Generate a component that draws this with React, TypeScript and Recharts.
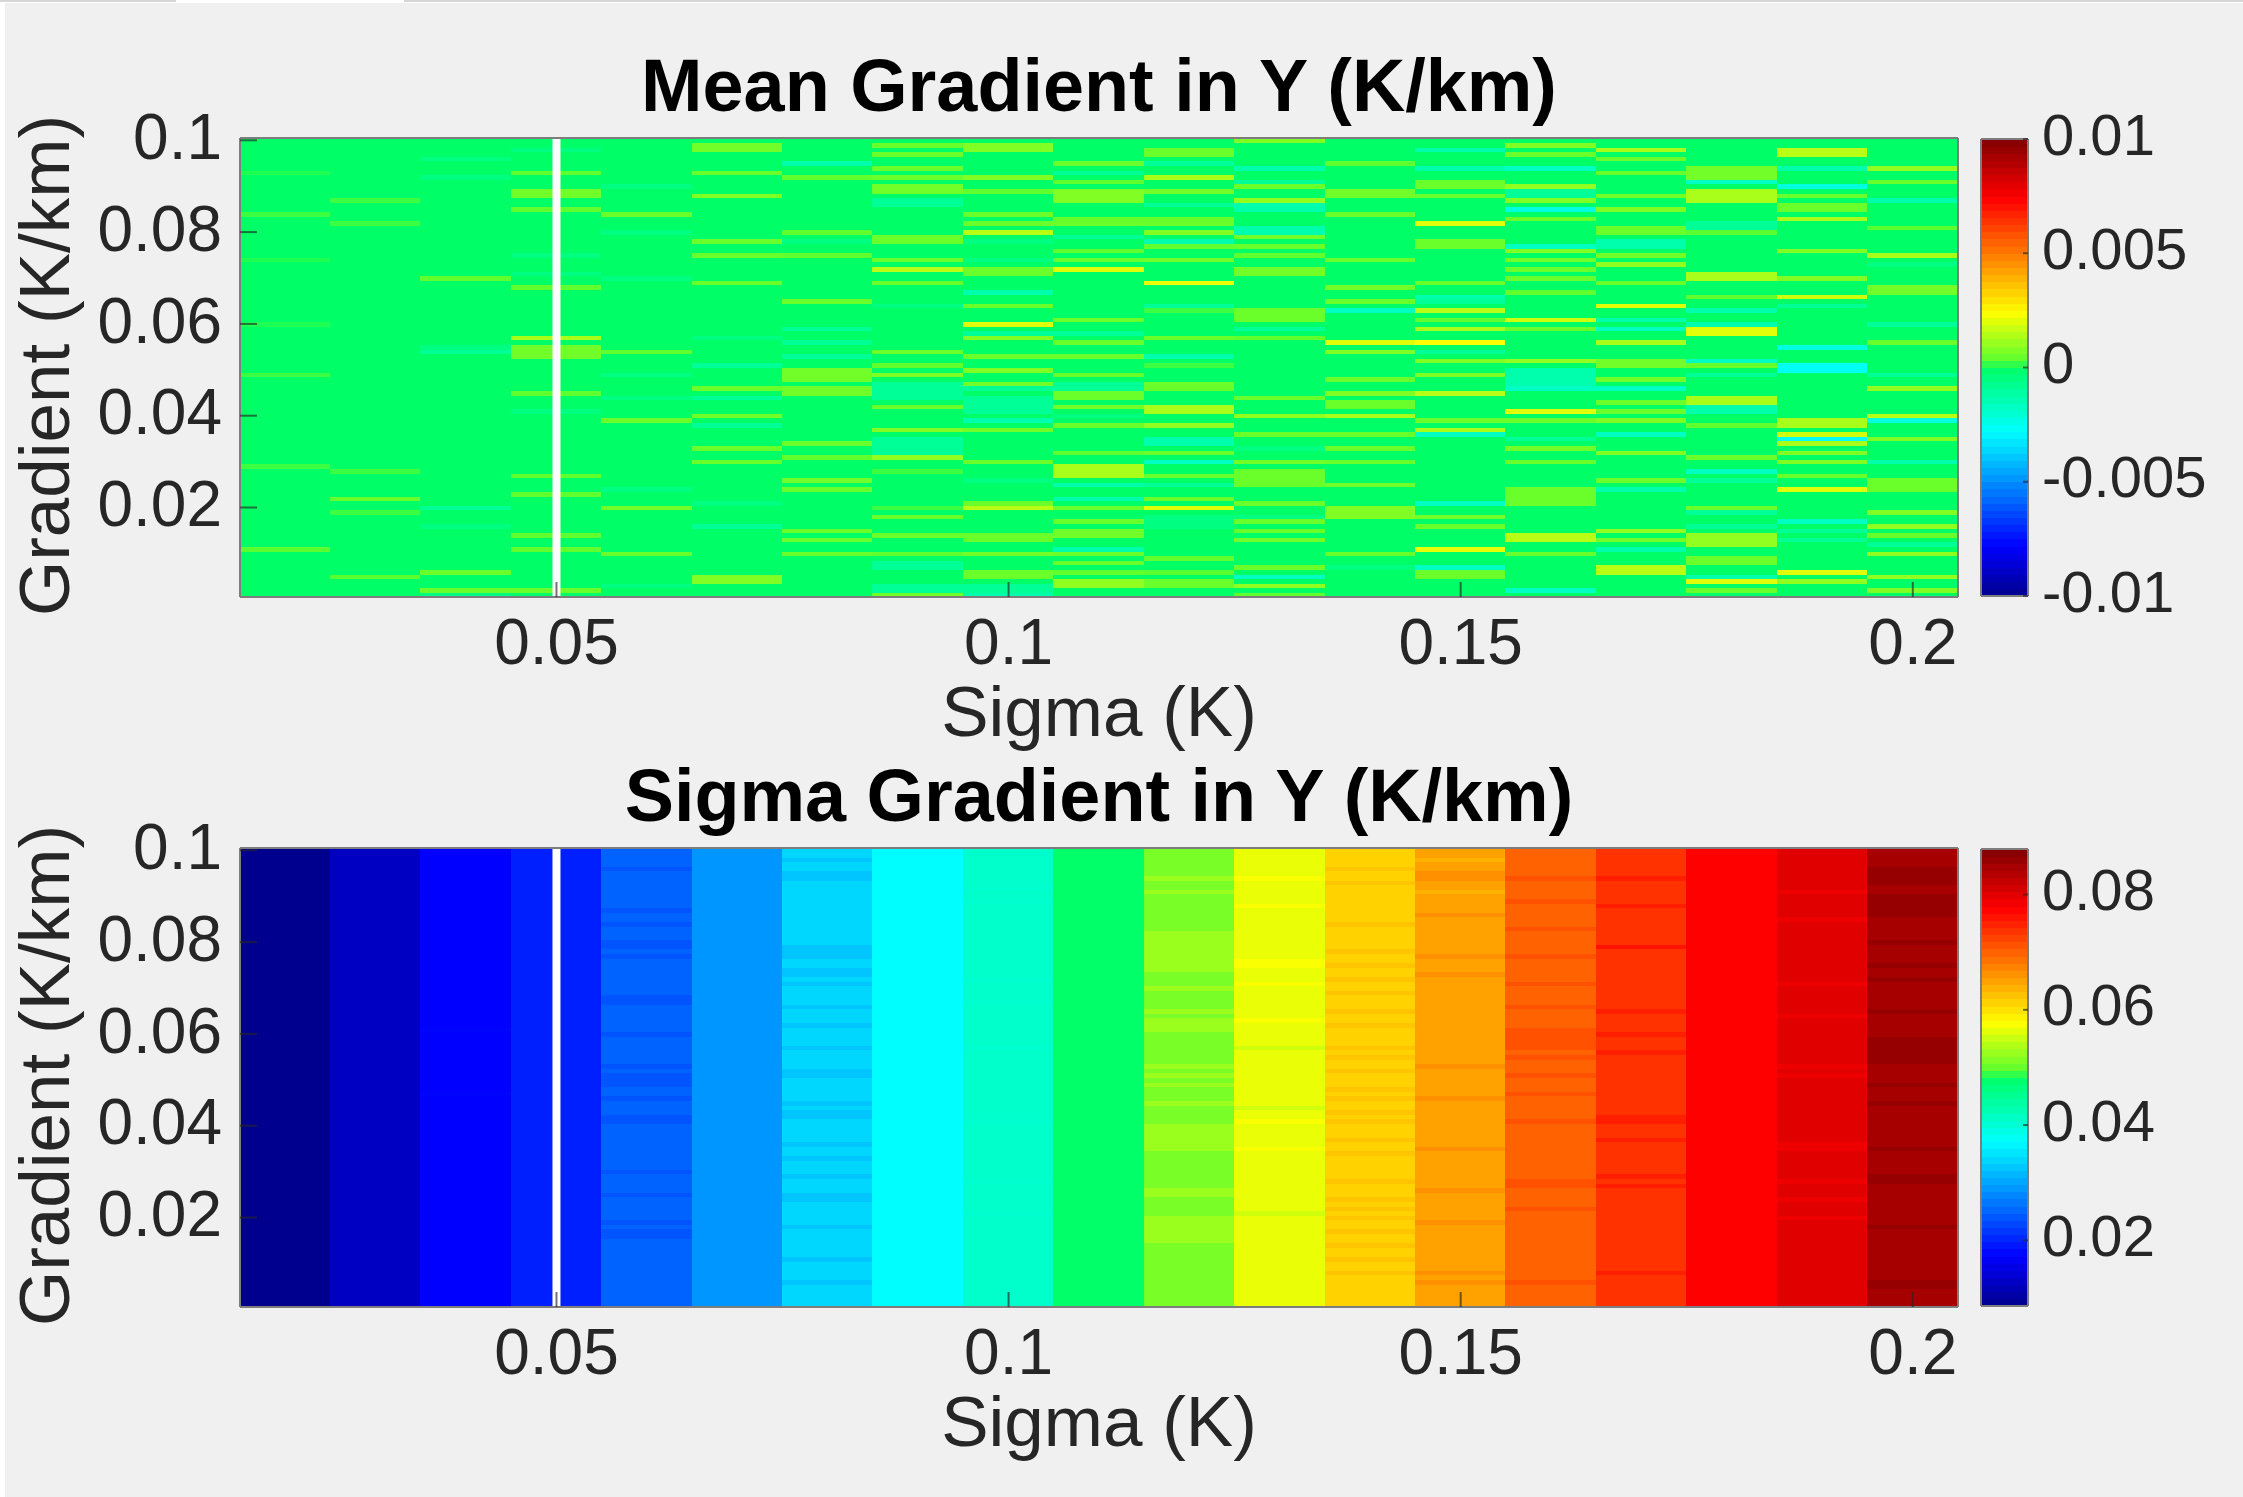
import React from 'react';
import { ComposedChart, Bar, Cell, XAxis, YAxis, ReferenceLine } from 'recharts';

// Sigma (K), one heatmap column each
const sigmaValues = [0.02, 0.03, 0.04, 0.05, 0.06, 0.07, 0.08, 0.09, 0.1, 0.11, 0.12, 0.13, 0.14, 0.15, 0.16, 0.17, 0.18, 0.19, 0.2];
const sigmaTicks = [0.05, 0.1, 0.15, 0.2];
const gradientTicks = [0.02, 0.04, 0.06, 0.08, 0.1];
const meanBarTicks = [-0.01, -0.005, 0, 0.005, 0.01];
const spreadBarTicks = [0.02, 0.04, 0.06, 0.08];
const missingSigma = 0.05;

// Mean gradient: [row, value in 1e-4 K/km], row n = n * 0.001 K/km. Rows not listed read as 0.
const mean020 = [[93, 1], [84, 2], [74, 1], [60, 1], [49, 2], [29, 2], [11, 3]];
const mean030 = [[87, 2], [82, 2], [28, 2], [22, 5], [19, 2], [5, 3]];
const mean040 = [[96, -5], [92, -5], [70, 4], [55, -5], [54, -9], [20, -9], [16, -5], [6, 5], [2, 5], [1, -5]];
const mean050 = [[98, -5], [93, 4], [89, 6], [88, 6], [85, 4], [75, -5], [71, -5], [68, 4], [57, 13], [55, 6], [54, 6], [53, 6], [45, 4], [41, -5], [27, 4], [23, 4], [14, 4], [11, 4], [2, 5]];
const mean060 = [[90, -5], [84, 5], [80, -5], [70, -5], [54, 4], [49, -5], [44, -5], [39, 5], [24, -5], [20, 6], [10, 5], [3, -5]];
const mean070 = [[99, 6], [98, 6], [93, 5], [88, 8], [78, 5], [75, 5], [69, 5], [57, -5], [51, -9], [46, 5], [44, -9], [40, 6], [38, -9], [33, 5], [30, 5], [21, -5], [16, -9], [5, 8], [4, 8]];
const mean080 = [[95, -13], [92, 4], [80, 4], [78, -5], [75, 4], [65, 5], [59, -9], [56, -9], [53, -9], [50, 6], [49, 6], [48, 6], [46, 6], [45, 6], [34, 5], [31, 4], [26, 6], [24, 5], [15, 5], [13, 5], [10, 5]];
const mean090 = [[99, 5], [97, 5], [94, 5], [92, 5], [90, 6], [89, 6], [87, -9], [86, -9], [79, 5], [78, 5], [74, 5], [72, 15], [69, 5], [64, -5], [54, 5], [51, 4], [49, 8], [47, -9], [46, -9], [45, -9], [44, -9], [42, 5], [37, 8], [35, -9], [34, -9], [33, -9], [32, -9], [31, 10], [28, 2], [20, 2], [18, 5], [14, 5], [10, 4], [8, -9], [7, -9], [3, -9], [2, -9], [1, 6]];
const mean100 = [[99, 8], [98, 8], [92, 8], [89, 4], [84, 5], [82, 5], [80, 15], [78, -5], [74, -5], [72, 5], [71, 5], [67, -13], [64, 5], [60, 20], [58, -9], [57, 8], [53, 5], [50, 8], [47, 6], [46, -9], [44, -9], [43, -9], [42, -9], [41, -9], [39, -13], [37, 6], [30, 5], [26, -5], [21, 5], [20, 15], [14, 5], [13, 5], [10, 6], [6, 5], [5, 5], [3, -9], [2, -9], [1, -13]];
const mean110 = [[95, 5], [93, -9], [91, 4], [89, 8], [88, 8], [87, 8], [83, 5], [82, 5], [79, -9], [76, 4], [74, 5], [72, 20], [61, 5], [58, -9], [56, 5], [53, 5], [49, 5], [47, -9], [46, -9], [45, 5], [44, 5], [42, 6], [40, -5], [38, 5], [32, 4], [29, 13], [28, 13], [27, 13], [25, -13], [22, -13], [20, 5], [17, 5], [15, 6], [14, 6], [11, -13], [10, 5], [8, 5], [6, 4], [4, 10], [3, 10]];
const mean120 = [[98, 5], [97, 5], [95, -9], [92, 13], [89, 6], [86, -9], [83, 5], [82, 5], [80, 8], [78, -13], [77, 4], [74, 6], [69, 22], [64, -9], [63, 2], [57, 5], [53, -13], [51, 2], [47, 5], [46, 5], [42, 13], [41, 13], [38, 10], [35, -13], [34, -13], [32, 5], [30, -17], [27, 5], [25, -9], [22, 5], [20, 20], [18, -5], [17, -5], [16, -5], [9, 4], [6, 3], [4, 5], [3, 5]];
const mean130 = [[100, 8], [94, -13], [91, -9], [90, 5], [87, 10], [86, -13], [85, -13], [81, -13], [80, -13], [79, 6], [77, 5], [75, 4], [72, 6], [71, 6], [63, 5], [62, 5], [61, 5], [59, -9], [57, 4], [44, 5], [40, 10], [36, 5], [33, -5], [30, 6], [28, 5], [27, 5], [26, 5], [25, 5], [21, 5], [18, -5], [17, 5], [15, 5], [13, 6], [7, 5], [5, -17], [3, 10], [1, 4]];
const mean140 = [[95, 4], [89, 6], [88, 6], [84, 5], [74, 5], [68, 6], [65, 5], [63, -17], [56, 20], [54, 8], [48, 5], [45, 8], [43, 5], [42, 5], [40, 13], [36, 5], [33, 5], [30, 5], [25, 6], [20, 8], [19, 8], [18, 8], [10, 5], [7, -5]];
const mean150 = [[98, -13], [94, -13], [91, 5], [90, 5], [88, 5], [82, 20], [78, 5], [77, 5], [69, 5], [66, -13], [65, -9], [63, 15], [61, 4], [59, 13], [56, 24], [54, -9], [52, 8], [49, 8], [45, 15], [39, 5], [37, 13], [36, -17], [21, -17], [18, 6], [16, 5], [11, 21], [7, -17], [6, 5], [5, 5]];
const mean160 = [[99, 8], [97, 5], [94, -17], [90, 10], [89, -9], [88, -9], [87, 8], [85, -22], [83, 5], [77, -17], [76, 8], [74, 6], [72, 5], [70, 5], [67, 4], [61, 18], [59, 5], [52, 10], [50, -13], [49, -13], [48, -13], [47, -13], [46, -17], [41, 20], [39, 5], [35, -9], [33, 6], [30, 5], [24, 5], [23, 5], [22, 5], [21, 5], [14, 15], [13, 15], [10, 5], [2, -17]];
const mean170 = [[98, 13], [96, 5], [93, 5], [88, 6], [85, 8], [81, 5], [80, 5], [78, -13], [77, -13], [75, 6], [73, 10], [69, 5], [64, 20], [61, -13], [59, -17], [56, 13], [52, 6], [51, 6], [48, 6], [46, -17], [43, 5], [41, 5], [39, 8], [36, -17], [32, 8], [26, 5], [24, -13], [15, 10], [13, 6], [11, -13], [7, 15], [6, 15]];
const mean180 = [[94, 6], [93, 6], [92, 6], [91, -17], [89, 13], [88, 13], [87, 13], [82, -9], [81, -9], [80, 3], [71, 13], [70, 13], [66, 4], [63, -13], [60, -13], [59, 20], [58, 20], [52, -17], [51, 5], [49, -9], [44, 13], [43, 13], [42, -13], [41, -13], [38, 4], [31, 5], [28, -17], [26, -9], [20, 5], [19, -9], [16, -9], [14, 10], [13, 10], [12, 10], [9, 5], [8, 5], [5, -13], [4, 20], [2, 5]];
const mean190 = [[98, 15], [97, 15], [94, -13], [90, -22], [88, 5], [86, 5], [85, 5], [83, 13], [76, 8], [70, 8], [66, 18], [64, -9], [55, -22], [51, -26], [50, -26], [39, 13], [38, 13], [36, 18], [35, -26], [34, 13], [32, 8], [30, 8], [27, 5], [24, 20], [17, -17], [15, -9], [13, -9], [6, 20], [4, 10]];
const mean200 = [[94, 10], [91, 5], [87, -13], [81, 3], [75, 13], [73, -5], [68, 6], [67, 6], [60, -9], [56, 5], [49, -9], [46, 10], [40, 15], [39, -22], [35, 8], [30, -13], [26, 5], [25, 5], [24, 5], [19, 8], [16, 10], [14, 5], [12, -9], [10, 10], [5, 10], [2, 8]];
const meanColumns = [mean020, mean030, mean040, mean050, mean060, mean070, mean080, mean090, mean100, mean110, mean120, mean130, mean140, mean150, mean160, mean170, mean180, mean190, mean200];

// Sigma gradient: typical value of each column (K/km)
const spreadBase = [0.0086, 0.0126, 0.0173, 0.0197, 0.025, 0.029, 0.034, 0.037, 0.041, 0.048, 0.051, 0.0567, 0.0613, 0.065, 0.07, 0.0737, 0.0776, 0.08, 0.0847];
// Rows that differ from the column value: [row, offset in 1e-4 K/km]
const spread040 = [[61, 3], [47, 3]];
const spread060 = [[96, -11], [87, -11], [84, -11], [80, -11], [79, -11], [77, -11], [68, -11], [67, -11], [60, -11], [53, -11], [51, -11], [50, -11], [49, -11], [46, -11], [42, -11], [41, -11], [30, -11], [25, -11], [19, -11], [17, -11], [16, -11]];
const spread080 = [[98, -14], [95, -14], [94, -14], [79, -14], [78, -14], [77, -14], [74, -14], [73, -14], [71, -14], [66, -14], [62, -14], [57, -14], [52, -14], [51, -14], [45, -14], [43, -14], [42, -14], [36, -14], [33, -14], [29, -14], [25, -14], [24, -14], [18, -14], [11, -14], [6, -14]];
const spread100 = [[92, -4], [89, -4], [72, -4], [67, -4], [57, -4], [41, -4], [28, -4], [21, -4]];
const spread120 = [[94, 17], [91, 17], [82, 17], [81, 17], [80, 17], [79, 17], [78, 17], [77, 17], [76, 17], [75, 17], [74, 17], [70, 17], [65, 17], [63, 17], [62, 17], [61, 17], [53, 17], [51, 17], [49, 17], [45, 17], [40, 17], [39, 17], [38, 17], [37, 17], [36, 17], [35, 17], [26, 17], [25, 17], [20, 17], [19, 17], [18, 17], [17, 17], [16, 17], [15, 17]];
const spread130 = [[94, 8], [88, 8], [76, 8], [75, 8], [71, 8], [63, 8], [57, -13], [44, -13], [41, 8], [35, 8], [21, -13]];
const spread140 = [[96, 10], [93, 10], [84, 10], [78, 10], [75, 10], [72, 10], [69, 10], [65, 10], [62, 10], [57, 10], [55, 10], [52, 10], [48, 10], [46, 10], [43, 10], [41, 10], [37, 10], [34, 10], [28, 10], [24, 10], [22, 10], [20, 10], [17, 10], [14, 10], [11, 10], [8, 10]];
const spread150 = [[98, -12], [95, 14], [94, 14], [91, -12], [86, 14], [77, 14], [73, 14], [53, 14], [46, 14], [35, 14], [26, 14], [19, 14], [8, 14], [6, 14]];
const spread160 = [[94, 13], [89, 13], [83, 13], [77, 13], [71, 13], [66, 13], [61, 13], [60, 13], [59, 13], [58, 13], [57, 13], [55, 13], [51, 13], [47, 13], [41, 13], [28, 13], [27, 13], [22, 13], [6, 13]];
const spread170 = [[94, 15], [88, 15], [79, 24], [65, 15], [60, 15], [56, 15], [42, 15], [41, 15], [37, 15], [29, 15], [27, 15], [8, 15]];
const spread190 = [[91, -11], [85, -11], [71, -11], [64, -11], [53, -11], [51, -11], [36, -11], [35, -11], [28, -11], [24, -11], [20, -11]];
const spread200 = [[96, 13], [95, 13], [94, 13], [93, 13], [90, 13], [89, 13], [88, 13], [87, 13], [86, 13], [80, 13], [75, 13], [72, 13], [65, 13], [59, 13], [58, 13], [57, 13], [56, 13], [55, 13], [54, 13], [49, 13], [45, 13], [35, 13], [29, 13], [28, 13], [18, 13], [6, 13], [5, 13]];
const spreadColumns = [[], [], spread040, [], spread060, [], spread080, [], spread100, [], spread120, spread130, spread140, spread150, spread160, spread170, [], spread190, spread200];

const rowIds = Array.from({ length: 100 }, (_, i) => i + 1);
const rowStep = 0.001;

// Colour map as it shows in the picture: [position 0-1, r, g, b]
const colourStops = [
  [0, 0, 0, 143],
  [0.11, 0, 0, 255],
  [0.36, 0, 255, 255],
  [0.5, 0, 255, 102],
  [0.515, 90, 255, 48],
  [0.62, 255, 255, 0],
  [0.87, 255, 0, 0],
  [1, 128, 0, 0],
];

function colourAt(t: number): string {
  const p = Math.max(0, Math.min(1, t));
  for (let i = 1; i < colourStops.length; i++) {
    const a = colourStops[i - 1];
    const b = colourStops[i];
    if (p <= b[0]) {
      const f = (p - a[0]) / (b[0] - a[0]);
      const mix = (k: number) => Math.round(a[k] + (b[k] - a[k]) * f);
      return `rgb(${mix(1)},${mix(2)},${mix(3)})`;
    }
  }
  return 'rgb(128,0,0)';
}

const meanDomain = [-0.01, 0.01];
const spreadDomain = [0.0086, 0.0879];

// Cell values per column and row
const meanCells = meanColumns.map((stripes) =>
  rowIds.map((r) => {
    const hit = stripes.find((s) => s[0] === r);
    return hit ? hit[1] * 1e-4 : 0;
  })
);
const spreadCells = spreadColumns.map((stripes, c) =>
  rowIds.map((r) => {
    const hit = stripes.find((s) => s[0] === r);
    return spreadBase[c] + (hit ? hit[1] * 1e-4 : 0);
  })
);

const heatTable = sigmaValues.map((sigma) => {
  const row: Record<string, number> = { sigma, start: 0.0005 };
  rowIds.forEach((r) => {
    row[`r${r}`] = rowStep;
  });
  return row;
});

const textColour = '#262626';
const tickStroke = { stroke: '#262626', strokeWidth: 2, strokeOpacity: 0.65 };
const boxLine = { stroke: '#7d7d7d', strokeWidth: 2 };
const xTickFont = { fontSize: 64, fill: textColour, fontFamily: 'Liberation Sans' };
const yTickFont = { fontSize: 64, fill: textColour, fontFamily: 'Liberation Sans', dy: -4 };
const barFont = { fontSize: 58, fill: textColour, fontFamily: 'Liberation Sans', dy: -5 };

const CHART_H = 780;
const PLOT_TOP = 138;
const PLOT_BOTTOM = 597;

const Heatmap = ({ title, cells, domain, top }: any) => {
  const toT = (v: number) => (v - domain[0]) / (domain[1] - domain[0]);
  return (
    <div style={{ position: 'absolute', left: 0, top }}>
      <ComposedChart
        width={2243}
        height={CHART_H}
        data={heatTable}
        barCategoryGap={0}
        barGap={0}
        margin={{ top: PLOT_TOP - 1, right: 284, bottom: CHART_H - PLOT_BOTTOM - 155, left: 0 }}
      >
        <XAxis
          dataKey="sigma"
          height={155}
          ticks={sigmaTicks}
          interval={0}
          tickSize={-15}
          tickMargin={37}
          tick={xTickFont}
          tickLine={tickStroke}
          axisLine={boxLine}
          label={{
            value: 'Sigma (K)',
            position: 'insideBottom',
            offset: 16,
            style: { fontSize: 71, fill: textColour, fontFamily: 'Liberation Sans' },
          }}
        />
        <XAxis
          xAxisId="top"
          orientation="top"
          dataKey="sigma"
          height={1}
          ticks={sigmaTicks}
          interval={0}
          tickSize={-15}
          tick={false}
          tickLine={tickStroke}
          axisLine={boxLine}
          label={{
            value: title,
            position: 'top',
            offset: 26,
            style: { fontSize: 73.8, fontWeight: 700, fill: '#000', fontFamily: 'Liberation Sans' },
          }}
        />
        <YAxis
          width={240}
          type="number"
          domain={[0.0005, 0.1005]}
          allowDataOverflow
          ticks={gradientTicks}
          interval={0}
          tickSize={-17}
          tickMargin={35}
          tick={yTickFont}
          tickLine={tickStroke}
          axisLine={boxLine}
          label={{
            content: ({ viewBox }: any) => {
              const cy = viewBox.y + viewBox.height / 2 - 2;
              return (
                <text
                  x={44}
                  y={cy}
                  transform={`rotate(-90 44 ${cy})`}
                  textAnchor="middle"
                  dominantBaseline="central"
                  fontSize={71}
                  fill={textColour}
                  fontFamily="Liberation Sans"
                >
                  Gradient (K/km)
                </text>
              );
            },
          }}
        />
        <YAxis
          yAxisId="right"
          orientation="right"
          width={1}
          type="number"
          domain={[0.0005, 0.1005]}
          allowDataOverflow
          ticks={gradientTicks}
          interval={0}
          tickSize={-17}
          tick={false}
          tickLine={tickStroke}
          axisLine={boxLine}
        />
        <Bar dataKey="start" stackId="cells" fill="none" isAnimationActive={false} />
        {rowIds.map((r) => (
          <Bar key={r} dataKey={`r${r}`} stackId="cells" isAnimationActive={false}>
            {sigmaValues.map((s, c) => {
              const fill = colourAt(toT(cells[c][r - 1]));
              return <Cell key={s} fill={fill} stroke={fill} strokeWidth={1} />;
            })}
          </Bar>
        ))}
        <ReferenceLine x={missingSigma} stroke="#fff" strokeWidth={8} />
      </ComposedChart>
    </div>
  );
};

const Colourbar = ({ domain, ticks, top }: any) => {
  const levels = Array.from({ length: 64 }, (_, i) => i);
  const step = (domain[1] - domain[0]) / 64;
  const row: Record<string, any> = { name: 'bar', start: domain[0] };
  levels.forEach((i) => {
    row[`l${i}`] = step;
  });
  return (
    <div style={{ position: 'absolute', left: 1980, top }}>
      <ComposedChart
        width={263}
        height={CHART_H}
        data={[row]}
        barCategoryGap={0}
        margin={{ top: PLOT_TOP, right: 0, bottom: CHART_H - PLOT_BOTTOM, left: 0 }}
      >
        <XAxis dataKey="name" height={1} tick={false} tickLine={false} axisLine={boxLine} />
        <XAxis xAxisId="top" orientation="top" dataKey="name" height={1} tick={false} tickLine={false} axisLine={boxLine} />
        <YAxis
          orientation="right"
          width={215}
          type="number"
          domain={domain}
          allowDataOverflow
          ticks={ticks}
          interval={0}
          tickSize={-5}
          tickMargin={19}
          tick={barFont}
          tickLine={tickStroke}
          axisLine={boxLine}
        />
        <YAxis yAxisId="left" width={1} type="number" domain={domain} tick={false} tickLine={false} axisLine={boxLine} />
        <Bar dataKey="start" stackId="cells" fill="none" isAnimationActive={false} />
        {levels.map((i) => {
          const fill = colourAt((i + 0.5) / 64);
          return <Bar key={i} dataKey={`l${i}`} stackId="cells" fill={fill} stroke={fill} strokeWidth={1} isAnimationActive={false} />;
        })}
      </ComposedChart>
    </div>
  );
};

export default function App() {
  return (
    <div style={{ position: 'absolute', left: 0, top: 0, width: 2243, height: 1497, background: '#fff', overflow: 'hidden' }}>
      <style>{'.recharts-bar-rectangle path, .recharts-rectangle { shape-rendering: crispEdges; }'}</style>
      <div style={{ position: 'absolute', left: 0, top: 0, width: 176, height: 2, background: '#d6d6d6' }} />
      <div style={{ position: 'absolute', left: 404, top: 0, right: 0, height: 2, background: '#d6d6d6' }} />
      <div style={{ position: 'absolute', left: 5, top: 3, right: 0, bottom: 0, background: '#f0f0f0', filter: 'blur(0.7px)' }}>
        <div style={{ position: 'absolute', left: -5, top: -3 }}>
          <Heatmap title="Mean Gradient in Y (K/km)" cells={meanCells} domain={meanDomain} top={0} />
          <Colourbar domain={meanDomain} ticks={meanBarTicks} top={0} />
          <Heatmap title="Sigma Gradient in Y (K/km)" cells={spreadCells} domain={spreadDomain} top={710} />
          <Colourbar domain={spreadDomain} ticks={spreadBarTicks} top={710} />
        </div>
      </div>
    </div>
  );
}
